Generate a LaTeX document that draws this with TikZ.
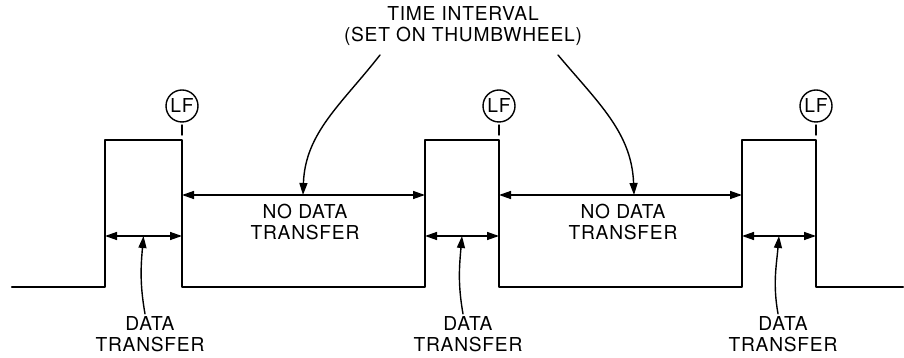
\documentclass[tikz,border=0pt]{standalone}
\usepackage{fontspec}
\setmainfont{TeX Gyre Heros}[LetterSpace=4]
\usetikzlibrary{arrows.meta,calc}
\begin{document}
\begin{tikzpicture}[x=0.5pt, y=0.5pt, line join=round, line cap=round,
	font=\fontsize{9.6}{10.6}\selectfont,
	signal/.style={line width=1.2pt},
	span/.style={line width=0.7pt, {Triangle[length=6pt,width=4pt]}-{Triangle[length=6pt,width=4pt]}},
	pointer/.style={line width=0.7pt, -{Triangle[length=6pt,width=4pt]}},
	lbl/.style={align=center, inner sep=1pt},
	lf/.style={circle, draw, line width=0.7pt, minimum size=16pt, inner sep=0pt}]
	\useasboundingbox (0,0) rectangle (904,358);
	% Pulse edges, LF marks
	\foreach \i/\a/\b in {1/105/182, 2/425/499, 3/742/816} {
		\coordinate (L\i) at (\a,71);
		\coordinate (R\i) at (\b,71);
		\coordinate (L\i t) at (\a,218);
		\coordinate (R\i t) at (\b,218);
		\coordinate (L\i m) at (\a,163);
		\coordinate (R\i m) at (\b,163);
		\coordinate (L\i d) at (\a,122);
		\coordinate (R\i d) at (\b,122);
		\coordinate (M\i) at ($(L\i d)!0.5!(R\i d)$);
		\node[lf] (lf\i) at (\b,252) {LF};
		\draw[line width=0.7pt] (\b,223) -- (\b,233);
		\draw[span] (L\i d) -- (R\i d);
	}
	% Signal
	\coordinate (S) at (12,71);
	\coordinate (E) at (903,71);
	\draw[signal] (S) -- (L1) -- (L1t) -- (R1t) -- (R1) -- (L2) -- (L2t) -- (R2t)
		-- (R2) -- (L3) -- (L3t) -- (R3t) -- (R3) -- (E);
	% No data transfer spans
	\draw[span] (R1m) -- (L2m);
	\draw[span] (R2m) -- (L3m);
	\node[lbl] (nodata1) at (305,136) {NO DATA\\TRANSFER};
	\node[lbl] (nodata2) at (623,136) {NO DATA\\TRANSFER};
	% Time interval
	\node[lbl] (time) at (463,332) {TIME INTERVAL\\(SET ON THUMBWHEEL)};
	\coordinate (T1) at (380,303);
	\coordinate (T2) at (558,303);
	\coordinate (N1) at (303,163);
	\coordinate (N2) at (634,163);
	\draw[pointer] (T1) to[out=232, in=88] (N1);
	\draw[pointer] (T2) to[out=-50, in=92] (N2);
	% Data transfer labels
	\foreach \i/\x in {1/150, 2/468, 3/783} {
		\node[lbl] (dt\i) at (\x,24) {DATA\\TRANSFER};
		\draw[pointer] ($(dt\i.north)+(-5,0)$) to[out=100, in=-95] (M\i);
	}
\end{tikzpicture}
\end{document}
